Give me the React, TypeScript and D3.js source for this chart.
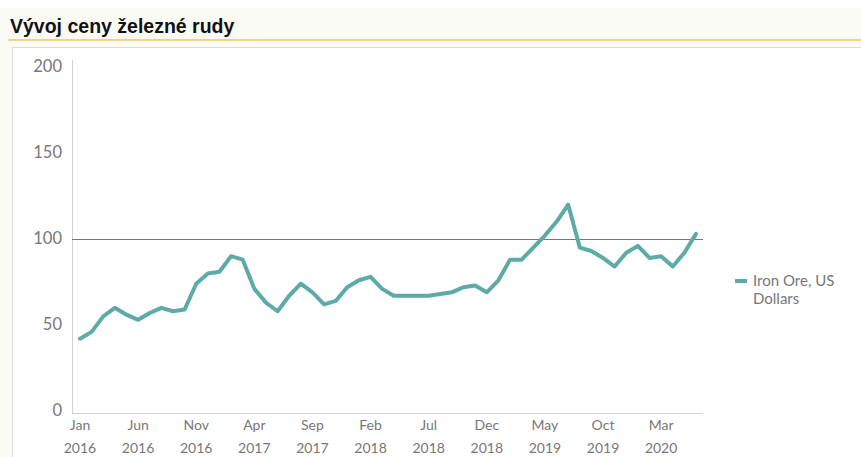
import React from "react";
import * as d3 from "d3";

const title = "Vývoj ceny železné rudy";
const seriesName = ["Iron Ore, US", "Dollars"];
const months = ["Jan", "Feb", "Mar", "Apr", "May", "Jun", "Jul", "Aug", "Sep", "Oct", "Nov", "Dec"];
const startYear = 2016;
const values = [
  42, 46, 55, 60, 56, 53, 57, 60, 58, 59, 74, 80,
  81, 90, 88, 71, 63, 58, 67, 74, 69, 62, 64, 72,
  76, 78, 71, 67, 67, 67, 67, 68, 69, 72, 73, 69,
  76, 88, 88, 95, 102, 110, 120, 95, 93, 89, 84, 92,
  96, 89, 90, 84, 92, 103,
];
const yTicks = [0, 50, 100, 150, 200];
const xTickIdx = [0, 5, 10, 15, 20, 25, 30, 35, 40, 45, 50];
const refValue = 100;

const W = 861;
const H = 457;
const lineColor = "#5eaaa7";
const labelColor = "#777";
const font = "Lato, 'Open Sans', sans-serif";

export default function App() {
  const x = d3.scaleLinear().domain([0, values.length - 1]).range([80, 696]);
  const y = d3.scaleLinear().domain([0, 200]).range([411, 67]);
  const line = d3
    .line<number>()
    .x((_, i) => x(i))
    .y((d) => y(d))
    .curve(d3.curveLinear);

  return (
    <svg
      width={W}
      height={H}
      style={{ position: "absolute", left: 0, top: 0, background: "#fff" }}
      xmlns="http://www.w3.org/2000/svg"
    >
      <rect x={0} y={0} width={W} height={H} fill="#fbfbf6" />
      <rect x={0} y={0} width={W} height={8} fill="#fff" />
      <text x={10} y={33} fontFamily="'Liberation Sans', Arial, sans-serif" fontWeight="bold" fontSize={19.5} fill="#111">
        {title}
      </text>
      <line x1={8} x2={W} y1={40} y2={40} stroke="#e6c466" strokeWidth={1.5} />
      <rect x={12.5} y={47.5} width={W} height={H} fill="#fff" stroke="#dcdcdc" />

      {/* axes */}
      <line x1={72.5} x2={72.5} y1={60} y2={413} stroke="#d0d0d0" />
      <line x1={72} x2={702} y1={413.5} y2={413.5} stroke="#d0d0d0" />
      {yTicks.map((t) => (
        <text key={t} x={62} y={y(t) + 5} textAnchor="end" fontFamily={font} fontSize={16.5} fill={labelColor}>
          {t}
        </text>
      ))}
      {xTickIdx.map((i) => (
        <g key={i}>
          <text x={x(i)} y={430} textAnchor="middle" fontFamily={font} fontSize={14} fill={labelColor}>
            {months[i % 12]}
          </text>
          <text x={x(i)} y={453} textAnchor="middle" fontFamily={font} fontSize={14} fill={labelColor}>
            {startYear + Math.floor(i / 12)}
          </text>
        </g>
      ))}

      <line x1={72} x2={703} y1={Math.round(y(refValue)) + 0.5} y2={Math.round(y(refValue)) + 0.5} stroke="#777" strokeWidth={1} />

      <path d={line(values) || ""} fill="none" stroke={lineColor} strokeWidth={4} strokeLinejoin="round" strokeLinecap="round" />

      {/* legend */}
      <line x1={735} x2={747} y1={281} y2={281} stroke={lineColor} strokeWidth={4} />
      <text x={753} y={286} fontFamily={font} fontSize={15} fill={labelColor}>
        {seriesName[0]}
      </text>
      <text x={753} y={304} fontFamily={font} fontSize={15} fill={labelColor}>
        {seriesName[1]}
      </text>
    </svg>
  );
}
